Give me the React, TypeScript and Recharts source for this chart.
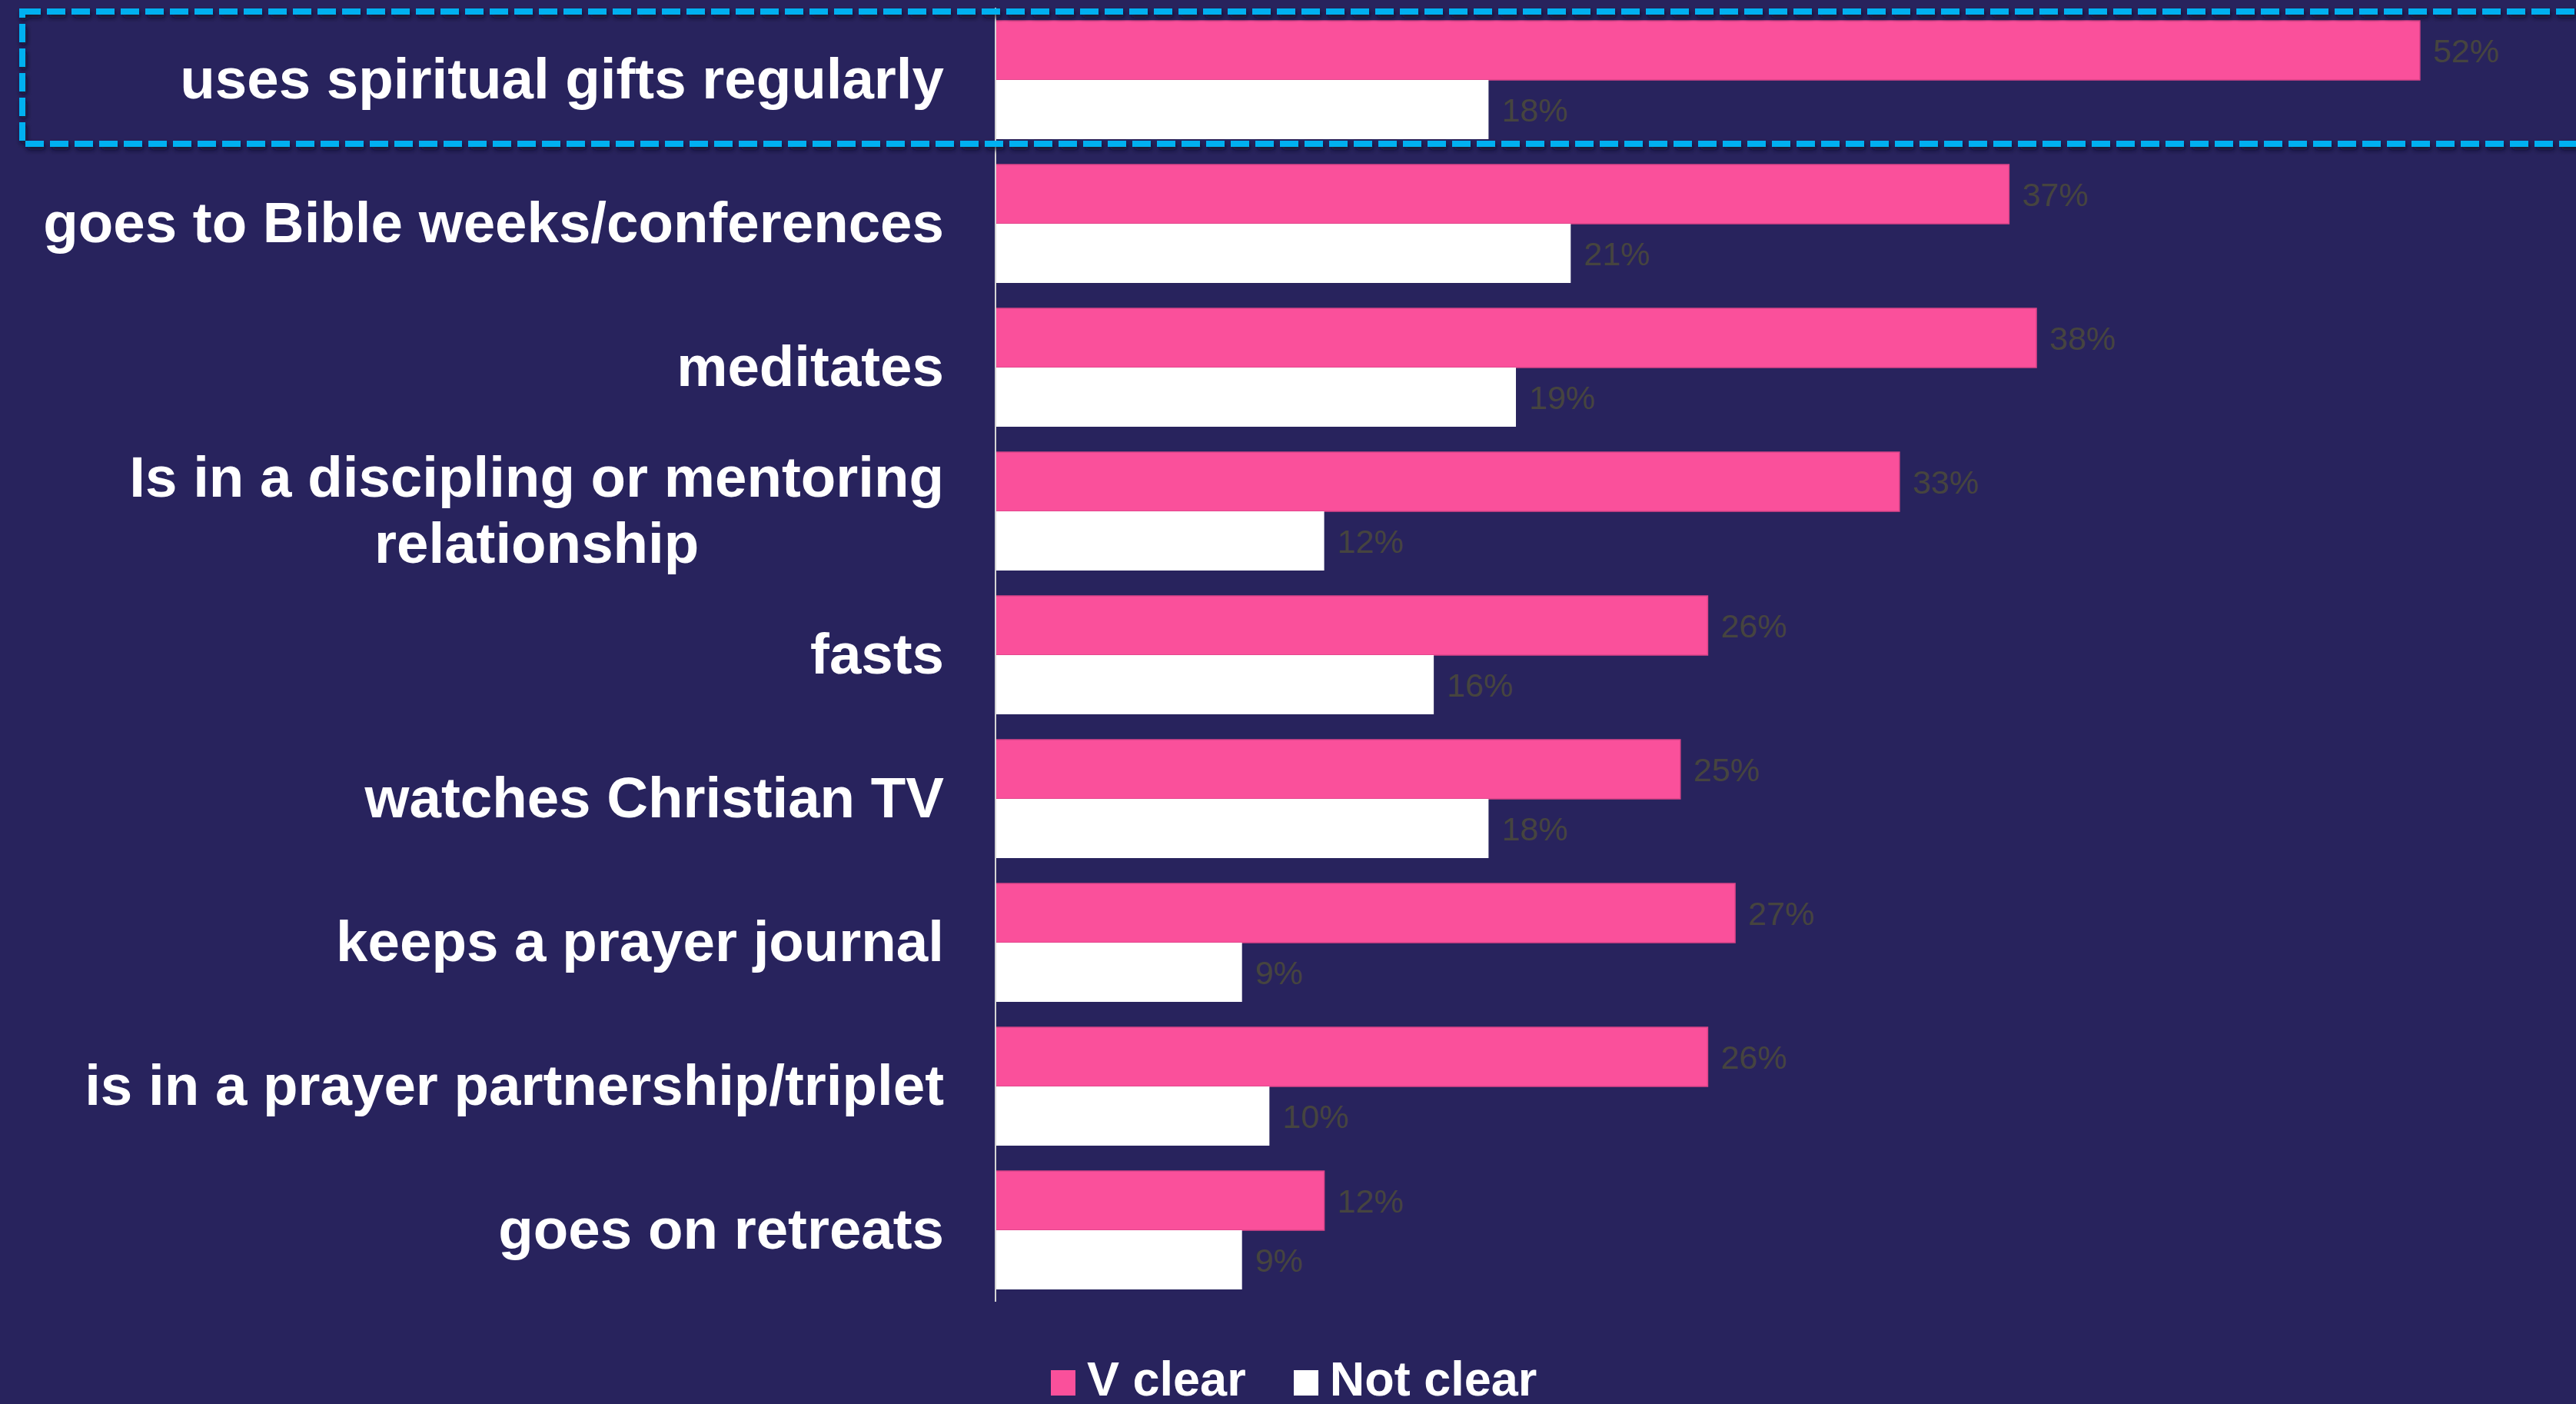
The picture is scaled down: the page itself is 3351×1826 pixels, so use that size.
import { BarChart, Bar, XAxis, YAxis, LabelList, Legend } from "recharts";

const categories = [
  ["uses spiritual gifts regularly"],
  ["goes to Bible weeks/conferences"],
  ["meditates"],
  ["Is in a discipling or mentoring", "relationship"],
  ["fasts"],
  ["watches Christian TV"],
  ["keeps a prayer journal"],
  ["is in a prayer partnership/triplet"],
  ["goes on retreats"],
];
const vClear = [52, 37, 38, 33, 26, 25, 27, 26, 12];
const notClear = [18, 21, 19, 12, 16, 18, 9, 10, 9];
const seriesNames = ["V clear", "Not clear"];

const BG = "#28235d";
const PINK = "#fa509b";
const FONT = "'Liberation Sans', Arial, Helvetica, sans-serif";
const LABEL_SIZE = 74.5;

const data = categories.map((lines, i) => ({
  name: lines.join(" "),
  lines,
  vClear: vClear[i],
  notClear: notClear[i],
}));

let ctx: CanvasRenderingContext2D | null = null;
function measure(text: string) {
  if (!ctx) ctx = document.createElement("canvas").getContext("2d");
  if (!ctx) return text.length * 38;
  ctx.font = `bold ${LABEL_SIZE}px ${FONT}`;
  return ctx.measureText(text).width;
}

function CategoryTick(props: any) {
  const { x, y, index } = props;
  const lines: string[] = data[index]?.lines ?? [props.payload.value];
  const lh = 86;
  const first = 24.5 - ((lines.length - 1) * lh) / 2;
  const widest = Math.max(...lines.map(measure));
  const single = lines.length === 1;
  return (
    <g>
      {lines.map((line, i) => (
        <text
          key={i}
          x={single ? x : x - widest / 2}
          y={y + first + i * lh}
          textAnchor={single ? "end" : "middle"}
          fill="#ffffff"
          fontSize={LABEL_SIZE}
          fontWeight="bold"
          fontFamily={FONT}
        >
          {line}
        </text>
      ))}
    </g>
  );
}

function LegendContent() {
  const colors = [PINK, "#ffffff"];
  return (
    <div
      style={{
        height: 133,
        display: "flex",
        alignItems: "flex-end",
        paddingLeft: 1367,
        fontFamily: FONT,
        fontWeight: "bold",
        color: "#ffffff",
      }}
    >
      {seriesNames.map((n, i) => (
        <div key={n} style={{ display: "flex", alignItems: "flex-end", marginRight: i === 0 ? 62 : 0 }}>
          <div style={{ width: 32, height: 33, background: colors[i], marginBottom: 11, marginRight: 15 }} />
          <span style={{ fontSize: 63, lineHeight: "63px", marginBottom: 1 }}>{n}</span>
        </div>
      ))}
    </div>
  );
}

export default function App() {
  return (
    <div
      style={{
        position: "absolute",
        left: 0,
        top: 0,
        width: 3351,
        height: 1826,
        background: BG,
        overflow: "hidden",
      }}
    >
      <BarChart
        layout="vertical"
        width={3351}
        height={1826}
        data={data}
        margin={{ top: 10, right: 0, bottom: 0, left: 0 }}
        barGap={0}
        barSize={77}
      >
        <XAxis type="number" domain={[0, 57.7]} hide />
        <YAxis
          type="category"
          dataKey="name"
          width={1295}
          axisLine={{ stroke: "#d4d4d4", strokeWidth: 2 }}
          tickLine={false}
          tickSize={0}
          tickMargin={67}
          interval={0}
          tick={<CategoryTick />}
        />
        <Legend verticalAlign="bottom" content={<LegendContent />} />
        <Bar dataKey="vClear" name={seriesNames[0]} fill={PINK} stroke="#dc4489" strokeWidth={1.5} isAnimationActive={false}>
          <LabelList
            dataKey="vClear"
            position="right"
            offset={17}
            formatter={(v: any) => `${v}%`}
            fill="#46443f"
            fontSize={43}
            fontFamily={FONT}
          />
        </Bar>
        <Bar dataKey="notClear" name={seriesNames[1]} fill="#ffffff" isAnimationActive={false}>
          <LabelList
            dataKey="notClear"
            position="right"
            offset={17}
            formatter={(v: any) => `${v}%`}
            fill="#46443f"
            fontSize={43}
            fontFamily={FONT}
          />
        </Bar>
      </BarChart>
      <svg
        width={3351}
        height={1826}
        style={{ position: "absolute", left: 0, top: 0, pointerEvents: "none" }}
      >
        <defs>
          <filter id="sh" x="-5%" y="-50%" width="110%" height="200%">
            <feDropShadow dx={2} dy={4} stdDeviation={3} floodColor="#0b0a22" floodOpacity={0.8} />
          </filter>
        </defs>
        <rect
          x={29}
          y={15}
          width={3400}
          height={172}
          fill="none"
          stroke="#00b0f0"
          strokeWidth={8}
          strokeDasharray="24 8"
          filter="url(#sh)"
        />
      </svg>
    </div>
  );
}
